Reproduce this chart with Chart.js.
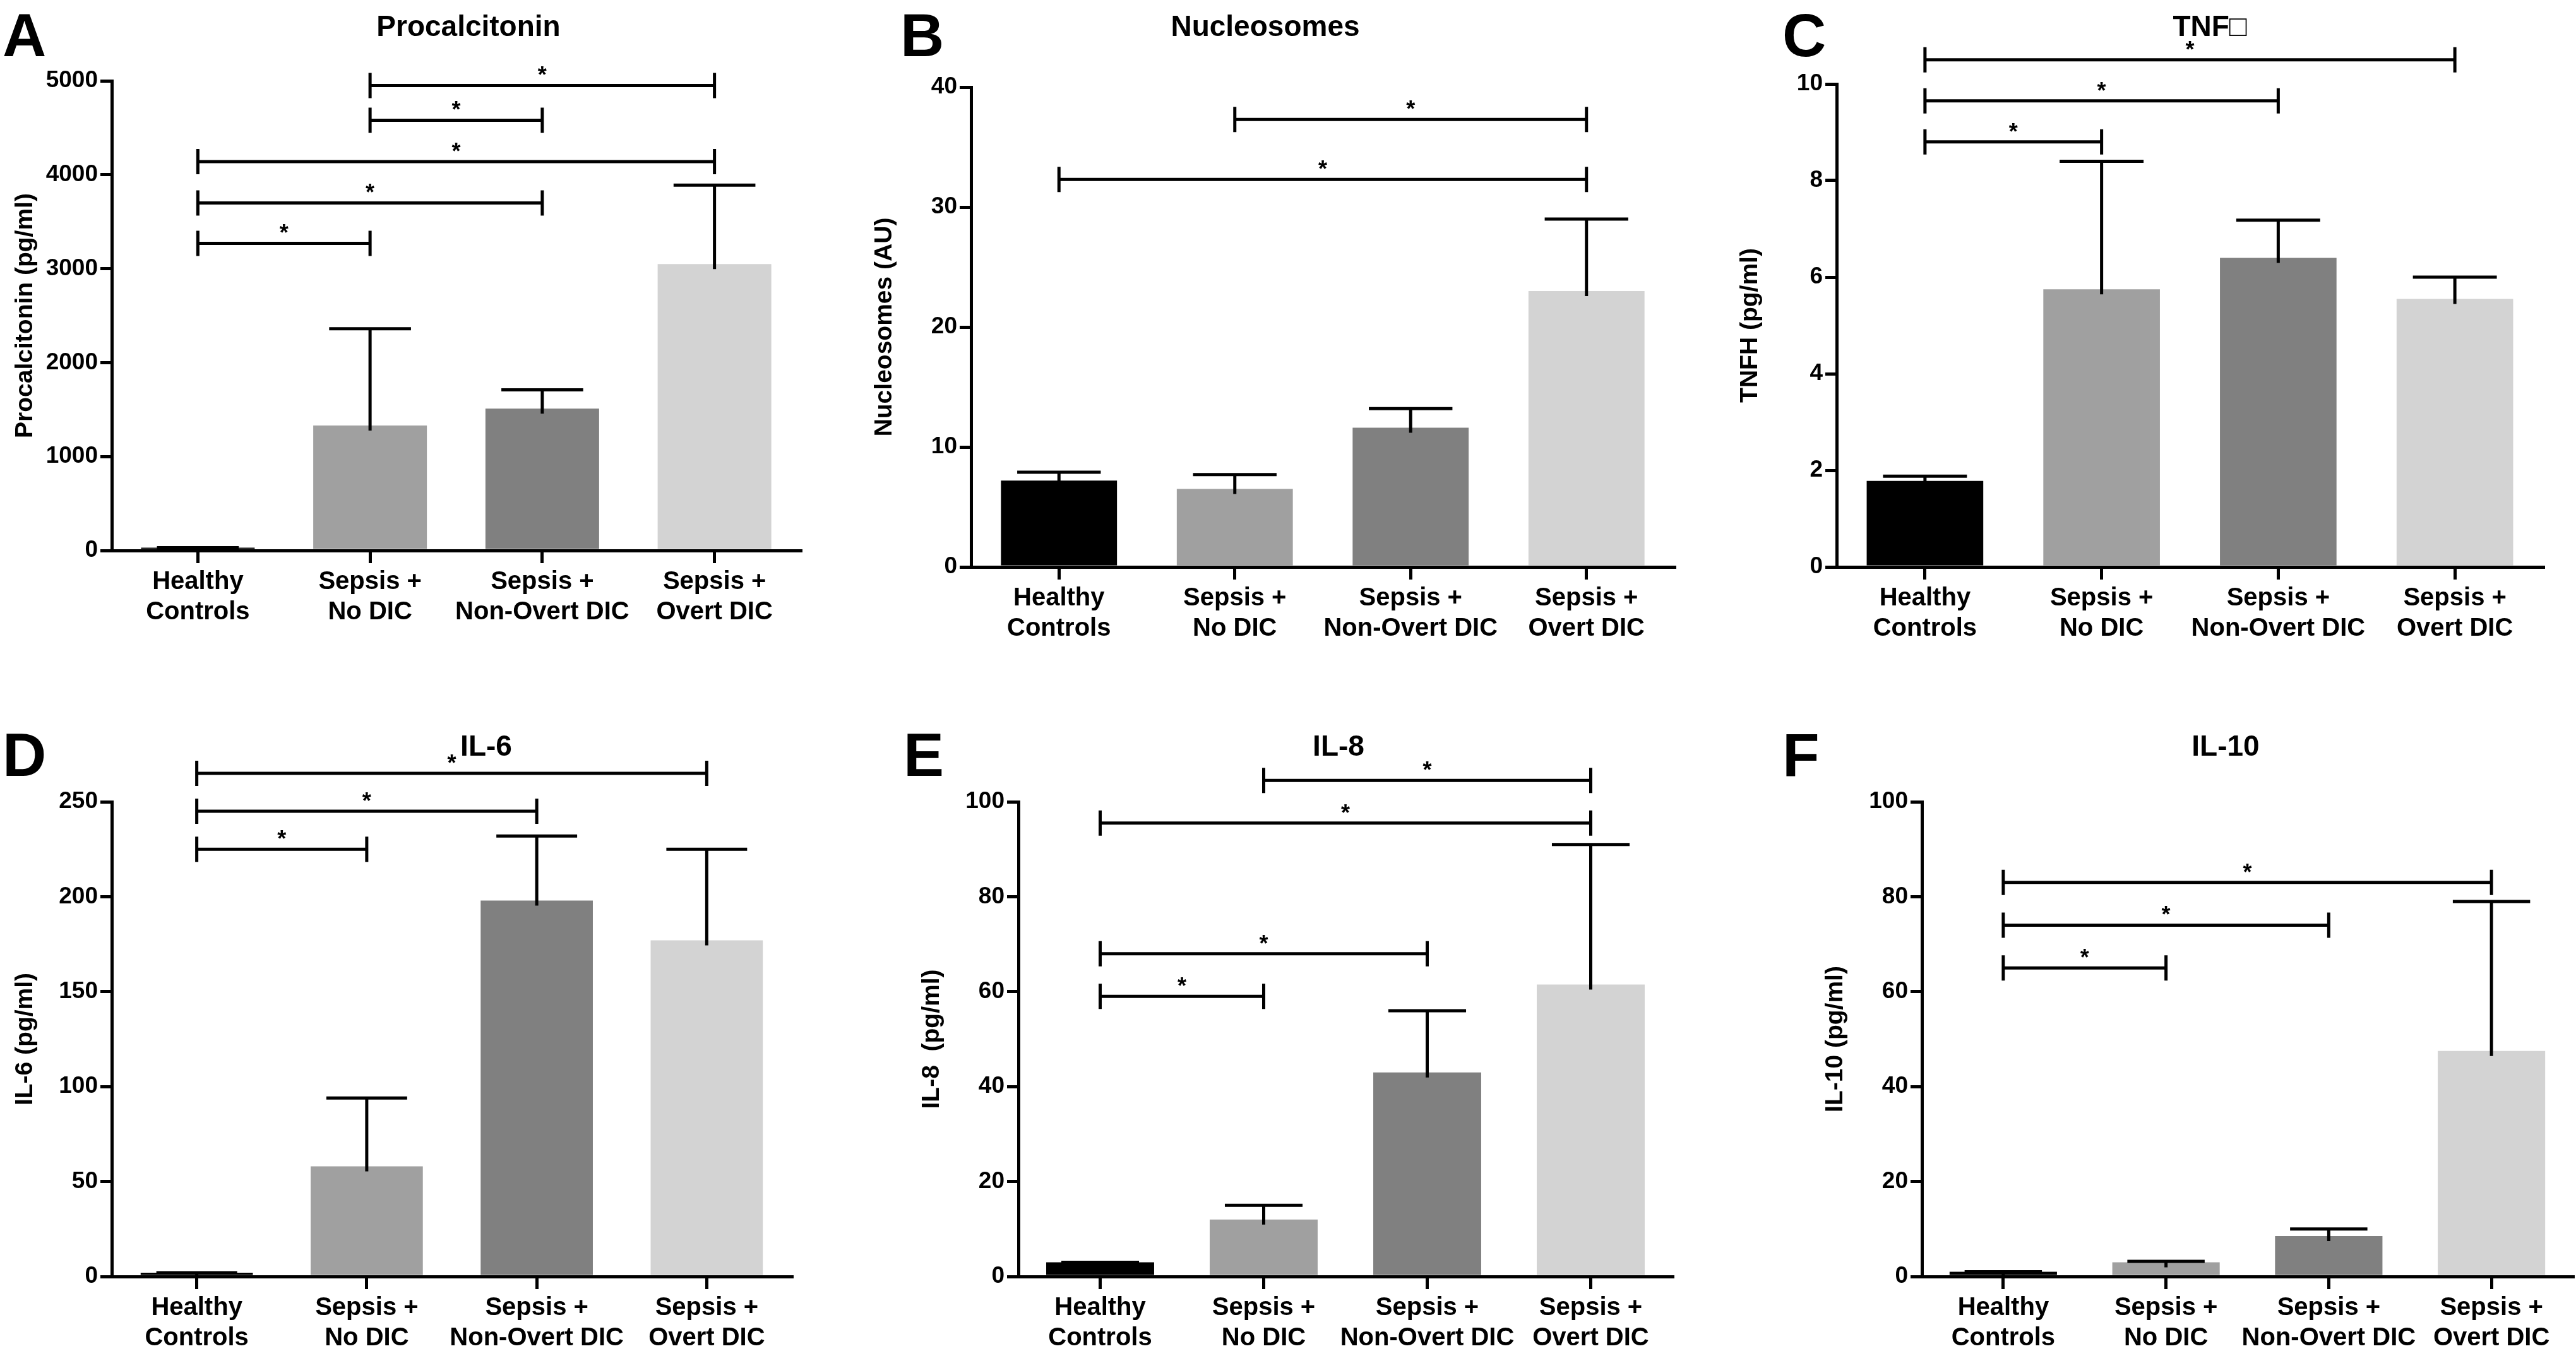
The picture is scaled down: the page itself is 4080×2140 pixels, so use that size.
<!DOCTYPE html>
<html>
<head>
<meta charset="utf-8">
<script src="https://cdn.jsdelivr.net/npm/chart.js@4.4.0/dist/chart.umd.min.js"></script>
<style>
  body { margin: 0; background: #fff; width: 4080px; height: 2140px; position: relative; overflow: hidden;
         font-family: "Liberation Sans", Arial, sans-serif; }
  canvas { position: absolute; }
  .letter { position: absolute; font-weight: bold; font-size: 96px; line-height: 1; }
  .title { position: absolute; font-weight: bold; font-size: 46px; transform: translateX(-50%); white-space: nowrap; }
</style>
</head>
<body>
<script>
// ---- data ----
const categories = [['Healthy', 'Controls'], ['Sepsis +', 'No DIC'], ['Sepsis +', 'Non-Overt DIC'], ['Sepsis +', 'Overt DIC']];
const barColors = ['#000000', '#a0a0a0', '#808080', '#d3d3d3'];

const pctMeans = [30, 1330, 1510, 3050];
const pctErrTop = [30, 2360, 1710, 3890];
const pctBrackets = [[0, 1, 3270], [0, 2, 3700], [0, 3, 4140], [1, 2, 4580], [1, 3, 4950]];

const nucMeans = [7.2, 6.5, 11.6, 23];
const nucErrTop = [7.9, 7.7, 13.2, 29];
const nucBrackets = [[0, 3, 32.3], [1, 3, 37.3]];

const tnfMeans = [1.78, 5.75, 6.4, 5.55];
const tnfErrTop = [1.88, 8.4, 7.18, 6.0];
const tnfBrackets = [[0, 1, 8.8], [0, 2, 9.65], [0, 3, 10.5]];

const il6Means = [2, 58, 198, 177];
const il6ErrTop = [2, 94, 232, 225];
const il6Brackets = [[0, 1, 225], [0, 2, 245], [0, 3, 265]];

const il8Means = [3, 12, 43, 61.5];
const il8ErrTop = [3, 15, 56, 91];
const il8Brackets = [[0, 1, 59], [0, 2, 68], [1, 3, 104.5], [0, 3, 95.5]];

const il10Means = [1, 3, 8.5, 47.5];
const il10ErrTop = [1, 3.2, 10, 79];
const il10Brackets = [[0, 1, 65], [0, 2, 74], [0, 3, 83]];

// ---- panels (layout: chart area in page px) ----
const panels = [
  { letter: 'A', title: 'Procalcitonin', yTitle: 'Procalcitonin (pg/ml)', means: pctMeans, err: pctErrTop, brackets: pctBrackets, max: 5000, step: 1000,
    area: [177, 128, 1268, 872], letterPos: [4, 8], titleX: 742 },
  { letter: 'B', title: 'Nucleosomes', yTitle: 'Nucleosomes (AU)', means: nucMeans, err: nucErrTop, brackets: nucBrackets, max: 40, step: 10,
    area: [1538, 138, 2652, 898], letterPos: [1426, 8], titleX: 2004 },
  { letter: 'C', title: 'TNF\u25A1', yTitle: 'TNFH (pg/ml)', means: tnfMeans, err: tnfErrTop, brackets: tnfBrackets, max: 10, step: 2,
    area: [2909, 133, 4028, 898], letterPos: [2823, 8], titleX: 3500 },
  { letter: 'D', title: 'IL-6', yTitle: 'IL-6 (pg/ml)', means: il6Means, err: il6ErrTop, brackets: il6Brackets, max: 250, step: 50,
    area: [177, 1270, 1254, 2022], letterPos: [4, 1148], titleX: 770 },
  { letter: 'E', title: 'IL-8', yTitle: 'IL-8  (pg/ml)', means: il8Means, err: il8ErrTop, brackets: il8Brackets, max: 100, step: 20,
    area: [1613, 1270, 2649, 2022], letterPos: [1431, 1148], titleX: 2120 },
  { letter: 'F', title: 'IL-10', yTitle: 'IL-10 (pg/ml)', means: il10Means, err: il10ErrTop, brackets: il10Brackets, max: 100, step: 20,
    area: [3044, 1270, 4075, 2022], letterPos: [2823, 1148], titleX: 3525 }
];

const PADL = 160, PADT = 80, PADR = 4, PADB = 150;
const LINE = 5;
const FONT = '"Liberation Sans", Arial';

const annotations = {
  id: 'annotations',
  afterDatasetsDraw(chart, args, opts) {
    const ctx = chart.ctx;
    const meta = chart.getDatasetMeta(0);
    const y = chart.scales.y;
    ctx.save();
    ctx.strokeStyle = '#000';
    ctx.fillStyle = '#000';
    ctx.lineWidth = LINE;
    // upper error bars
    opts.err.forEach((v, i) => {
      const bar = meta.data[i];
      const top = y.getPixelForValue(v);
      const base = y.getPixelForValue(opts.means[i]);
      const half = bar.width * 0.36;
      ctx.beginPath();
      ctx.moveTo(bar.x, base + 8);
      ctx.lineTo(bar.x, top);
      ctx.moveTo(bar.x - half, top);
      ctx.lineTo(bar.x + half, top);
      ctx.stroke();
    });
    // significance brackets
    ctx.font = 'bold 36px ' + FONT;
    ctx.textAlign = 'center';
    ctx.textBaseline = 'bottom';
    opts.brackets.forEach(([a, b, v]) => {
      const x1 = meta.data[a].x, x2 = meta.data[b].x;
      const py = y.getPixelForValue(v);
      ctx.beginPath();
      ctx.moveTo(x1, py); ctx.lineTo(x2, py);
      ctx.moveTo(x1, py - 20); ctx.lineTo(x1, py + 20);
      ctx.moveTo(x2, py - 20); ctx.lineTo(x2, py + 20);
      ctx.stroke();
      ctx.fillText('*', (x1 + x2) / 2, py + 4);
    });
    ctx.restore();
  }
};

panels.forEach(p => {
  const [l, t, r, b] = p.area;
  const cv = document.createElement('canvas');
  const w = r - l + PADL + PADR, h = b - t + PADT + PADB;
  cv.width = w; cv.height = h;
  cv.style.left = (l - PADL) + 'px';
  cv.style.top = (t - PADT) + 'px';
  document.body.appendChild(cv);

  const lt = document.createElement('div');
  lt.className = 'letter'; lt.textContent = p.letter;
  lt.style.left = p.letterPos[0] + 'px'; lt.style.top = p.letterPos[1] + 'px';
  document.body.appendChild(lt);
  const tt = document.createElement('div');
  tt.className = 'title'; tt.textContent = p.title;
  tt.style.left = p.titleX + 'px'; tt.style.top = (p.letterPos[1] + 6) + 'px';
  document.body.appendChild(tt);

  new Chart(cv, {
    type: 'bar',
    data: {
      labels: categories,
      datasets: [{ data: p.means, backgroundColor: barColors, categoryPercentage: 1, barPercentage: 0.66 }]
    },
    options: {
      responsive: false, animation: false, devicePixelRatio: 1,
      layout: { padding: { top: PADT, right: PADR } },
      plugins: { legend: { display: false }, tooltip: { enabled: false },
        annotations: { means: p.means, err: p.err, brackets: p.brackets } },
      scales: {
        x: {
          afterFit: s => { s.height = PADB; },
          border: { color: '#000', width: LINE },
          grid: { offset: false, drawOnChartArea: false, color: '#000', lineWidth: LINE, tickLength: 20 },
          ticks: { color: '#000', autoSkip: false, font: { family: FONT, weight: 'bold', size: 40 }, maxRotation: 0, padding: 6 }
        },
        y: {
          min: 0, max: p.max,
          afterFit: s => { s.width = PADL; },
          border: { color: '#000', width: LINE },
          grid: { drawOnChartArea: false, color: '#000', lineWidth: LINE, tickLength: 18 },
          ticks: { stepSize: p.step, color: '#000', format: { useGrouping: false },
                   font: { family: FONT, weight: 'bold', size: 37 }, padding: 4 },
          title: { display: true, text: p.yTitle, color: '#000', padding: 0,
                   font: { family: FONT, weight: 'bold', size: 39 } }
        }
      }
    },
    plugins: [annotations]
  });
});
</script>
</body>
</html>
